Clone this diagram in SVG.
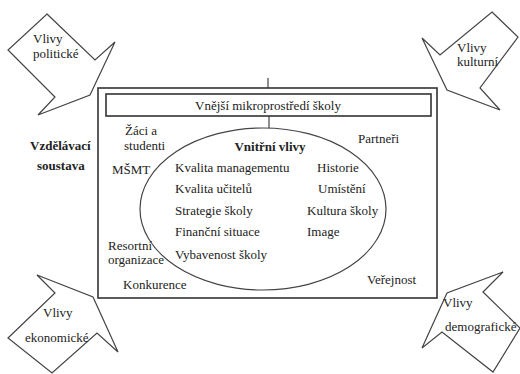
<svg xmlns="http://www.w3.org/2000/svg" width="520" height="374" viewBox="0 0 520 374">
<style>
text{font-family:"Liberation Serif",Tinos,"Times New Roman",Times,"Nimbus Roman","FreeSerif","Noto Serif","DejaVu Serif",serif;font-size:13px;fill:#222}
.b{font-weight:bold}
.m{text-anchor:middle}
.shape{fill:#fff;stroke:#444;stroke-width:1.2}
.ln{stroke:#444;stroke-width:1.2;fill:none}
</style>
<rect width="520" height="374" fill="#fff"/>
<g id="connectors">
<line class="ln" x1="268" y1="78" x2="268" y2="88"/>
<line class="ln" x1="269" y1="116" x2="269" y2="128"/>
</g>
<g id="outer">
<rect x="98" y="88" width="339" height="210" fill="none" stroke="#333" stroke-width="1.6"/>
</g>
<g id="mikro">
<rect x="106" y="94" width="325" height="22" fill="#fff" stroke="#333" stroke-width="1.6"/>
<text class="m" x="268" y="110">Vnější mikroprostředí školy</text>
</g>
<g id="vnitrni">
<ellipse cx="263" cy="209" rx="123" ry="81" class="ln"/>
<text class="b m" x="270" y="151">Vnitřní vlivy</text>
<text x="175" y="172">Kvalita managementu</text>
<text x="317" y="172">Historie</text>
<text x="175" y="193">Kvalita učitelů</text>
<text x="318" y="193">Umístění</text>
<text x="175" y="215">Strategie školy</text>
<text x="307" y="215">Kultura školy</text>
<text x="175" y="236">Finanční situace</text>
<text x="307" y="236">Image</text>
<text x="175" y="259">Vybavenost školy</text>
</g>
<g id="okoli">
<text x="125" y="135">Žáci a</text>
<text x="124" y="150">studenti</text>
<text x="358" y="143">Partneři</text>
<text x="112" y="174">MŠMT</text>
<text x="108" y="250">Resortní</text>
<text x="108" y="264">organizace</text>
<text x="123" y="289">Konkurence</text>
<text x="367" y="284">Veřejnost</text>
</g>
<g id="soustava">
<text class="b" x="30" y="150">Vzdělávací</text>
<text class="b" x="37" y="170">soustava</text>
</g>
<g id="politicke">
<polygon class="shape" points="47,14 95,60 115,42 90,95 38,115 55,97 8,50"/>
<text x="33" y="43">Vlivy</text>
<text x="33" y="58">politické</text>
</g>
<g id="kulturni">
<polygon class="shape" points="492,12 518,37 480,88 500,110 447,90 422,38 440,55"/>
<text x="457" y="52">Vlivy</text>
<text x="457" y="66">kulturní</text>
</g>
<g id="ekonomicke">
<polygon class="shape" points="8,338 55,293 37,275 93,297 118,352 97,333 52,373"/>
<text x="43" y="317">Vlivy</text>
<text x="25" y="342">ekonomické</text>
</g>
<g id="demograficke">
<polygon class="shape" points="422,348 447,293 503,272 483,292 520,328 493,372 442,332"/>
<text x="443" y="307">Vlivy</text>
<text x="445" y="331">demografické</text>
</g>
</svg>
